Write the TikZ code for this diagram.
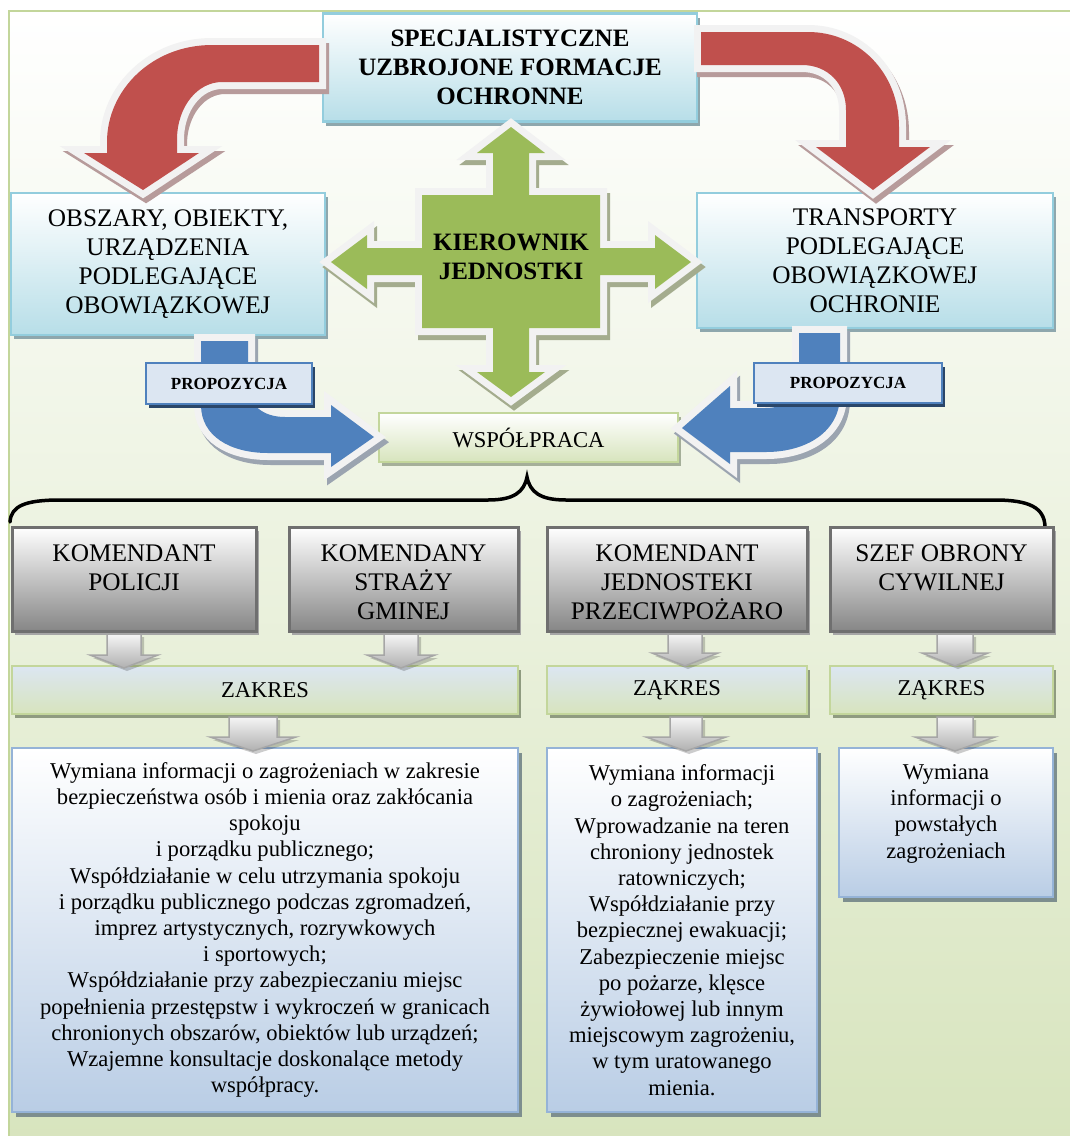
\documentclass[tikz,border=0pt]{standalone}
\usepackage{fontspec}
\setmainfont{Liberation Serif}
\usetikzlibrary{shadows}

\definecolor{bgbot}{HTML}{D7E4BD}
\definecolor{bgline}{HTML}{C3D69B}
\definecolor{cyanbot}{HTML}{B7DEE8}
\definecolor{cyanline}{HTML}{93CDDD}
\definecolor{cyanshade}{HTML}{8EA7AD}
\definecolor{redfill}{HTML}{C0504D}
\definecolor{redshade}{HTML}{B79B9B}
\definecolor{greenfill}{HTML}{9BBB59}
\definecolor{greenshade}{HTML}{A4AC8E}
\definecolor{bluefill}{HTML}{4F81BD}
\definecolor{blueshade}{HTML}{9BA4B0}
\definecolor{rim}{HTML}{F2F2F2}
\definecolor{propfill}{HTML}{DCE6F2}
\definecolor{propshade}{HTML}{2A4669}
\definecolor{graybot}{HTML}{868686}
\definecolor{grayline}{HTML}{6F6F6F}
\definecolor{grayshade}{HTML}{A6A6A6}
\definecolor{zaktop}{HTML}{DCE6F2}
\definecolor{oliveshade}{HTML}{8F9B80}
\definecolor{listbot}{HTML}{B9CDE5}
\definecolor{listline}{HTML}{95B3D7}
\definecolor{listshade}{HTML}{7D8E8E}

% down-pointing block arrow: centre x, shaft top, head base, tip, shaft half width, head half width
\newcommand\grayarrow[6]{%
  \begin{scope}[shift={(#1,0)}]
    \path[fill=black, opacity=0.2, shift={(3,3)}]
      (-#5,#2) -- (#5,#2) -- (#5,#3) -- (#6,#3) -- (0,#4) -- (-#6,#3) -- (-#5,#3) -- cycle;
    \path[draw=gray!70, line width=1.5pt, line join=miter, top color=gray!8, bottom color=gray!62]
      (-#5,#2) -- (#5,#2) -- (#5,#3) -- (#6,#3) -- (0,#4) -- (-#6,#3) -- (-#5,#3) -- cycle;
  \end{scope}}

\tikzset{
  every node/.style={inner sep=0pt, outer sep=0pt, align=center},
  panel/.style={rectangle, line width=2.5pt},
  cyanbox/.style={panel, draw=cyanline, top color=white, bottom color=cyanbot,
    drop shadow={shadow xshift=3pt, shadow yshift=-4pt, opacity=1, fill=cyanshade}},
  greenbox/.style={panel, draw=bgline, top color=white, bottom color=bgbot,
    drop shadow={shadow xshift=3pt, shadow yshift=-4pt, opacity=1, fill=oliveshade!80}},
  zakbox/.style={panel, draw=bgline, top color=zaktop, bottom color=bgbot,
    drop shadow={shadow xshift=3pt, shadow yshift=-4pt, opacity=1, fill=oliveshade}},
  graybox/.style={panel, line width=3pt, draw=grayline, top color=white, bottom color=graybot,
    drop shadow={shadow xshift=3pt, shadow yshift=-4pt, opacity=1, fill=grayshade}},
  listbox/.style={panel, draw=listline, top color=white, bottom color=listbot,
    drop shadow={shadow xshift=4pt, shadow yshift=-5pt, opacity=1, fill=listshade}},
  propbox/.style={panel, line width=2pt, draw=bluefill, fill=propfill,
    drop shadow={shadow xshift=3pt, shadow yshift=-4pt, opacity=1, fill=propshade}},
  boldtitle/.style={font=\fontsize{25}{29}\selectfont\bfseries},
  capstitle/.style={font=\fontsize{25.3}{29}\selectfont},
  bartext/.style={font=\fontsize{22.6}{26}\selectfont},
  listtext/.style={font=\fontsize{22.6}{26.2}\selectfont},
  rimline/.style={draw=rim, line width=14pt, line join=miter},
  % outlines of the block arrows
  crossp/.style={insert path={(511,127) -- (545,153) -- (529,153) -- (529,195) -- (600,195)
    -- (600,248) -- (655,248) -- (655,235) -- (691,262) -- (655,289) -- (655,275) -- (600,275)
    -- (600,328) -- (529,328) -- (529,372) -- (545,372) -- (511,397) -- (477,372) -- (493,372)
    -- (493,328) -- (422,328) -- (422,275) -- (367,275) -- (367,289) -- (331,262) -- (367,235)
    -- (367,248) -- (422,248) -- (422,195) -- (493,195) -- (493,153) -- (477,153) -- cycle}},
  redleftp/.style={insert path={(319,45) -- (212,45) .. controls (152,45) and (107,90) .. (107,142)
    -- (107,153) -- (84,153) -- (143,190) -- (199,153) -- (177,153) -- (177,140)
    .. controls (177,106) and (198,82) .. (222,82) -- (319,82) -- cycle}},
  redrightp/.style={insert path={(701,32) -- (808,32) .. controls (858,32) and (899,72) .. (899,127)
    -- (899,147) -- (930,147) -- (873,190) -- (816,147) -- (846,147) -- (846,110)
    .. controls (846,84) and (828,65) .. (802,65) -- (701,65) -- cycle}},
  blueleftp/.style={insert path={(201,341) -- (201,405) .. controls (201,436) and (230,453) .. (268,453)
    -- (331,453) -- (331,467) -- (374,437) -- (331,405) -- (331,417) -- (285,417)
    .. controls (263,417) and (248,405) .. (248,385) -- (248,341) -- cycle}},
  bluerightp/.style={insert path={(840,333) -- (840,395) .. controls (840,432) and (806,452) .. (766,452)
    -- (730,452) -- (730,464) -- (682,428) -- (730,386) -- (730,408) -- (765,408)
    .. controls (786,408) and (799,398) .. (799,378) -- (799,333) -- cycle}},
}

\begin{document}
\begin{tikzpicture}[x=1pt, y=-1pt]
\useasboundingbox (0,0) rectangle (1070,1136);
\clip (0,0) rectangle (1070,1136);

% page panel
\path[draw=bgline, line width=2.5pt, top color=white, bottom color=bgbot] (9,11) rectangle (1090,1150);

% upper boxes
\node[cyanbox, boldtitle, minimum width=374, minimum height=108] (formacje) at (510,67.5)
  {SPECJALISTYCZNE\\UZBROJONE FORMACJE\\OCHRONNE};
\node[cyanbox, capstitle, minimum width=314, minimum height=142] (obszary) at (168,264)
  {OBSZARY, OBIEKTY,\\URZĄDZENIA\\PODLEGAJĄCE\\OBOWIĄZKOWEJ};
\node[cyanbox, capstitle, minimum width=356, minimum height=135] (transporty) at (875,260.5)
  {TRANSPORTY\\PODLEGAJĄCE\\OBOWIĄZKOWEJ\\OCHRONIE};
\node[greenbox, bartext, minimum width=299, minimum height=49] (wspolpraca)
  at (528.5,437.5) {WSPÓŁPRACA};

% four-way arrow of the unit head
\path[shift={(3,5)}, crossp, fill=greenshade, draw=greenshade, line width=14pt, line join=miter];
\path[crossp, rimline];
\path[crossp, fill=greenfill];
\node[boldtitle] (kierownik) at (511,257) {KIEROWNIK\\JEDNOSTKI};

% red bent arrows
\path[shift={(3,5)}, redleftp, fill=redshade, draw=redshade, line width=14pt, line join=miter];
\path[redleftp, rimline];
\path[redleftp, fill=redfill];
\path[shift={(3,5)}, redrightp, fill=redshade, draw=redshade, line width=14pt, line join=miter];
\path[redrightp, rimline];
\path[redrightp, fill=redfill];

% blue curved arrows
\path[shift={(3,5)}, blueleftp, fill=blueshade, draw=blueshade, line width=14pt, line join=miter];
\path[blueleftp, rimline];
\path[blueleftp, fill=bluefill];
\path[shift={(3,5)}, bluerightp, fill=blueshade, draw=blueshade, line width=14pt, line join=miter];
\path[bluerightp, rimline];
\path[bluerightp, fill=bluefill];

\node[propbox, font=\fontsize{17}{20}\selectfont\bfseries, minimum width=166, minimum height=41]
  (propL) at (229,383.5) {PROPOZYCJA};
\node[propbox, font=\fontsize{17}{20}\selectfont\bfseries, minimum width=188, minimum height=40]
  (propR) at (848,383) {PROPOZYCJA};

% brace
\draw[line width=3.5pt, line cap=round]
  (10,522) .. controls (11,506) and (25,500) .. (60,500) -- (488,500)
  .. controls (514,500) and (524,492) .. (527,477)
  .. controls (530,492) and (540,500) .. (566,500) -- (995,500)
  .. controls (1030,500) and (1044,508) .. (1045,526);

% services
\node[graybox, minimum width=244, minimum height=104] (policja) at (134,579) {};
\node[graybox, minimum width=229, minimum height=104] (straz) at (403.5,579) {};
\node[graybox, minimum width=260, minimum height=104] (pozarna) at (677,579) {};
\node[graybox, minimum width=223, minimum height=104] (obrona) at (941.5,579) {};
\node[capstitle, anchor=north] (policjaT) at (134,544.5) {KOMENDANT\\POLICJI};
\node[capstitle, anchor=north] (strazT) at (403.5,544.5) {KOMENDANY\\STRAŻY\\GMINEJ};
\node[capstitle, anchor=north] (pozarnaT) at (677,544.5) {KOMENDANT\\JEDNOSTEKI\\PRZECIWPOŻARO};
\node[capstitle, anchor=north] (obronaT) at (941.5,544.5) {SZEF OBRONY\\CYWILNEJ};

% scope bars
\node[zakbox, bartext, minimum width=506, minimum height=48] (zakres1) at (265,690) {ZAKRES};
\node[zakbox, bartext, minimum width=260, minimum height=48] (zakres2) at (677,690) {ZĄKRES};
\node[zakbox, bartext, minimum width=223, minimum height=48] (zakres3) at (941.5,690) {ZĄKRES};

\grayarrow{124}{634}{655}{668}{17}{34}
\grayarrow{401}{634}{655}{668}{17}{34}
\grayarrow{685}{634}{653}{666}{17}{33}
\grayarrow{955}{634}{653}{666}{18}{33}

% task lists
\node[listbox, listtext, minimum width=506, minimum height=364] (zadania1) at (265,930)
  {Wymiana informacji o zagrożeniach w zakresie\\
   bezpieczeństwa osób i mienia oraz zakłócania\\
   spokoju\\
   i porządku publicznego;\\
   Współdziałanie w celu utrzymania spokoju\\
   i porządku publicznego podczas zgromadzeń,\\
   imprez artystycznych, rozrywkowych\\
   i sportowych;\\
   Współdziałanie przy zabezpieczaniu miejsc\\
   popełnienia przestępstw i wykroczeń w granicach\\
   chronionych obszarów, obiektów lub urządzeń;\\
   Wzajemne konsultacje doskonalące metody\\
   współpracy.};
\node[listbox, listtext, minimum width=270, minimum height=364] (zadania2) at (682,930)
  {Wymiana informacji\\
   o zagrożeniach;\\
   Wprowadzanie na teren\\
   chroniony jednostek\\
   ratowniczych;\\
   Współdziałanie przy\\
   bezpiecznej ewakuacji;\\
   Zabezpieczenie miejsc\\
   po pożarze, klęsce\\
   żywiołowej lub innym\\
   miejscowym zagrożeniu,\\
   w tym uratowanego\\
   mienia.};
\node[listbox, minimum width=214, minimum height=149] (zadania3) at (946,822.5) {};
\node[listtext, anchor=north] (zadania3T) at (946,764.5)
  {Wymiana\\informacji o\\powstałych\\zagrożeniach};

\grayarrow{253}{717}{737}{751}{24}{43}
\grayarrow{686}{717}{737}{751}{16}{40}
\grayarrow{955}{717}{737}{751}{18}{40}

\end{tikzpicture}
\end{document}
